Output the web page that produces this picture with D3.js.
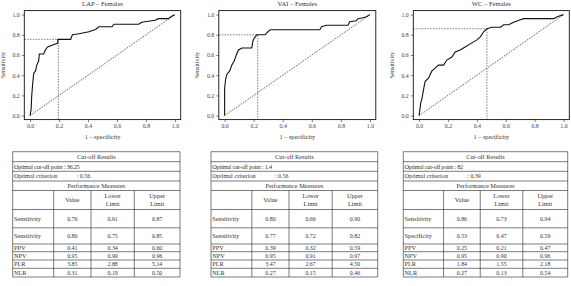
<!DOCTYPE html>
<html><head><meta charset="utf-8">
<script src="https://cdn.jsdelivr.net/npm/d3@7"></script>
<style>body{margin:0;background:#fff}svg{display:block}text{font-family:"Liberation Serif","DejaVu Serif",serif}</style>
</head><body><svg id="c" width="571" height="286"></svg>
<script>
// ---------- data ----------
const panelTitles = ["LAP – Females", "VAI – Females", "WC – Females"];
const xTicks = [0, 0.2, 0.4, 0.6, 0.8, 1.0];
const yTicks = [0, 0.2, 0.4, 0.6, 0.8, 1.0];
const lapROC = [[0,0],[0.007,0.06],[0.011,0.19],[0.018,0.32],[0.025,0.42],[0.037,0.44],[0.046,0.50],[0.059,0.54],[0.064,0.61],[0.094,0.61],[0.105,0.65],[0.121,0.68],[0.155,0.70],[0.19,0.715],[0.192,0.755],[0.28,0.755],[0.292,0.80],[0.338,0.81],[0.406,0.83],[0.452,0.853],[0.475,0.88],[0.566,0.88],[0.578,0.905],[0.749,0.905],[0.772,0.925],[0.863,0.944],[0.886,0.96],[0.954,0.96],[0.977,0.984],[1,1]];
const vaiROC = [[0,0],[0,0.27],[0.007,0.36],[0.016,0.41],[0.034,0.44],[0.05,0.50],[0.066,0.54],[0.08,0.60],[0.096,0.65],[0.119,0.67],[0.187,0.67],[0.194,0.735],[0.203,0.765],[0.221,0.80],[0.279,0.80],[0.29,0.82],[0.313,0.85],[0.655,0.85],[0.667,0.88],[0.701,0.895],[0.849,0.895],[0.86,0.93],[0.906,0.94],[0.918,0.96],[0.952,0.97],[0.975,0.98],[1,1]];
const wcROC = [[0,0],[0.012,0.13],[0.019,0.16],[0.025,0.21],[0.035,0.29],[0.042,0.34],[0.065,0.37],[0.088,0.44],[0.111,0.47],[0.134,0.50],[0.169,0.50],[0.192,0.55],[0.227,0.58],[0.25,0.63],[0.284,0.65],[0.319,0.68],[0.366,0.72],[0.40,0.75],[0.424,0.78],[0.447,0.83],[0.47,0.86],[0.505,0.875],[0.563,0.875],[0.586,0.90],[0.62,0.90],[0.655,0.925],[0.701,0.95],[0.724,0.96],[0.933,0.96],[0.956,0.98],[1,1]];
const cutFpr = [0.195, 0.228, 0.47];
const cutTpr = [0.755, 0.80, 0.86];
const cutPoints = ["36.25", "1.4", "82"];
const criteria = ["0.56", "0.56", "0.39"];
const colHeaders = [["Value"], ["Lower", "Limit"], ["Upper", "Limit"]];
const rowLabelsLAP = ["Sensitivity", "Sensitivity", "PPV", "NPV", "PLR", "NLR"];
const rowLabelsVAI = ["Sensitivity", "Sensitivity", "PPV", "NPV", "PLR", "NLR"];
const rowLabelsWC = ["Sensitivity", "Specificity", "PPV", "NPV", "PLR", "NLR"];
const lapValues = [["0.76","0.61","0.87"],["0.80","0.75","0.85"],["0.41","0.34","0.60"],["0.95","0.90","0.96"],["3.85","2.88","5.14"],["0.31","0.19","0.50"]];
const vaiValues = [["0.80","0.66","0.90"],["0.77","0.72","0.82"],["0.39","0.32","0.59"],["0.95","0.91","0.97"],["3.47","2.67","4.50"],["0.27","0.15","0.46"]];
const wcValues = [["0.86","0.73","0.94"],["0.53","0.47","0.59"],["0.25","0.21","0.47"],["0.95","0.90","0.96"],["1.84","1.55","2.18"],["0.27","0.13","0.54"]];

const rocs = [lapROC, vaiROC, wcROC];
const rowLabels = [rowLabelsLAP, rowLabelsVAI, rowLabelsWC];
const tableValues = [lapValues, vaiValues, wcValues];

// ---------- layout ----------
const svg = d3.select("#c");
const plotBoxes = [[24.3, 180.7], [218.8, 375.8], [413.3, 569.3]];
const plotTop = 10.6, plotBottom = 119.6;
const tableBoxes = [[12.7, 180], [211, 377.7], [403.3, 567.7]];
const tableTop = 151.7;
const rowY = [0, 10, 19.6, 29.3, 38.8, 57.8, 76.1, 92.3, 100, 108.3, 116.6, 125.3];
const colFrac = [0, 0.245, 0.468, 0.727, 1];
const fmt = d => d.toFixed(1);
const FS = 6.3;

rocs.forEach((roc, i) => {
  const [l, r] = plotBoxes[i];
  const x = d3.scaleLinear().domain([-0.04, 1.04]).range([l, r]);
  const y = d3.scaleLinear().domain([-0.04, 1.04]).range([plotBottom, plotTop]);
  const g = svg.append("g");
  const xa = g.append("g").attr("transform", `translate(0,${plotBottom})`)
    .call(d3.axisBottom(x).tickValues(xTicks).tickFormat(fmt).tickSize(2.5).tickPadding(2));
  const ya = g.append("g").attr("transform", `translate(${l},0)`)
    .call(d3.axisLeft(y).tickValues(yTicks).tickFormat(fmt).tickSize(2.5).tickPadding(2));
  [xa, ya].forEach(a => {
    a.select(".domain").remove();
    a.selectAll("line").attr("stroke", "#333").attr("stroke-width", 0.6);
    a.selectAll("text").attr("font-size", 5.9).attr("fill", "#444").attr("font-family", "Liberation Serif");
  });
  g.append("line").attr("x1", x(0)).attr("y1", y(0)).attr("x2", x(1)).attr("y2", y(1))
    .attr("stroke", "#222").attr("stroke-width", 0.7).attr("stroke-dasharray", "1.6,1.2");
  g.append("line").attr("x1", l).attr("y1", y(cutTpr[i])).attr("x2", x(cutFpr[i])).attr("y2", y(cutTpr[i]))
    .attr("stroke", "#333").attr("stroke-width", 0.6).attr("stroke-dasharray", "1.6,1.2");
  g.append("line").attr("x1", x(cutFpr[i])).attr("y1", y(cutTpr[i])).attr("x2", x(cutFpr[i])).attr("y2", plotBottom)
    .attr("stroke", "#333").attr("stroke-width", 0.6).attr("stroke-dasharray", "1.6,1.2");
  g.append("path").datum(roc)
    .attr("d", d3.line().x(d => x(d[0])).y(d => y(d[1])))
    .attr("fill", "none").attr("stroke", "#111").attr("stroke-width", 1.1);
  g.append("rect").attr("x", l).attr("y", plotTop).attr("width", r - l).attr("height", plotBottom - plotTop)
    .attr("fill", "none").attr("stroke", "#111").attr("stroke-width", 0.9);
  g.append("text").attr("x", (l + r) / 2).attr("y", 6.3).attr("text-anchor", "middle")
    .attr("font-size", 6.6).attr("fill", "#333").text(panelTitles[i]);
  g.append("text").attr("x", (l + r) / 2).attr("y", 138.8).attr("text-anchor", "middle")
    .attr("font-size", 6.3).attr("fill", "#333").text("1 – specificity");
  g.append("text").attr("transform", `translate(${l - 19.5},${(plotTop + plotBottom) / 2}) rotate(-90)`)
    .attr("text-anchor", "middle").attr("font-size", 6.1).attr("fill", "#333").text("Sensitivity");
});

// ---------- tables ----------
tableValues.forEach((vals, i) => {
  const [l, r] = tableBoxes[i];
  const w = r - l;
  const g = svg.append("g");
  const colX = colFrac.map(f => l + f * w);
  const Y = rowY.map(v => tableTop + v);
  const stroke = "#222", sw = 0.6;
  Y.forEach(yy => g.append("line").attr("x1", l).attr("x2", r).attr("y1", yy).attr("y2", yy)
    .attr("stroke", stroke).attr("stroke-width", sw));
  [l, r].forEach(xx => g.append("line").attr("x1", xx).attr("x2", xx).attr("y1", Y[0]).attr("y2", Y[Y.length - 1])
    .attr("stroke", stroke).attr("stroke-width", sw));
  colX.slice(1, 4).forEach(cx => g.append("line").attr("x1", cx).attr("x2", cx).attr("y1", Y[4]).attr("y2", Y[Y.length - 1])
    .attr("stroke", stroke).attr("stroke-width", sw));
  const txt = (xx, yy, s, anchor, fs) => g.append("text").attr("x", xx).attr("y", yy).attr("text-anchor", anchor || "start")
    .attr("font-size", fs || FS).attr("fill", "#333").text(s);
  const mid = k => (Y[k] + Y[k + 1]) / 2 + 2.1;
  txt((l + r) / 2, mid(0), "Cut-off Results", "middle");
  txt(l + 1.2, mid(1), "Optimal cut-off point : " + cutPoints[i]).attr("letter-spacing", -0.25);
  txt(l + 1.2, mid(2), "Optimal criterion");
  txt(l + 64, mid(2), ": " + criteria[i], "start", 5.9);
  txt((l + r) / 2, mid(3), "Performance Measures", "middle");
  colHeaders.forEach((hdr, c) => {
    const cx = (colX[c + 1] + colX[c + 2]) / 2;
    if (hdr.length === 1) txt(cx, mid(4), hdr[0], "middle");
    else { txt(cx, mid(4) - 3.7, hdr[0], "middle"); txt(cx, mid(4) + 3.7, hdr[1], "middle"); }
  });
  vals.forEach((row, k) => {
    const ry = mid(5 + k);
    txt(l + 1.2, ry, rowLabels[i][k]);
    row.forEach((v, c) => txt((colX[c + 1] + colX[c + 2]) / 2, ry, v, "middle", 5.9));
  });
});
</script></body></html>
